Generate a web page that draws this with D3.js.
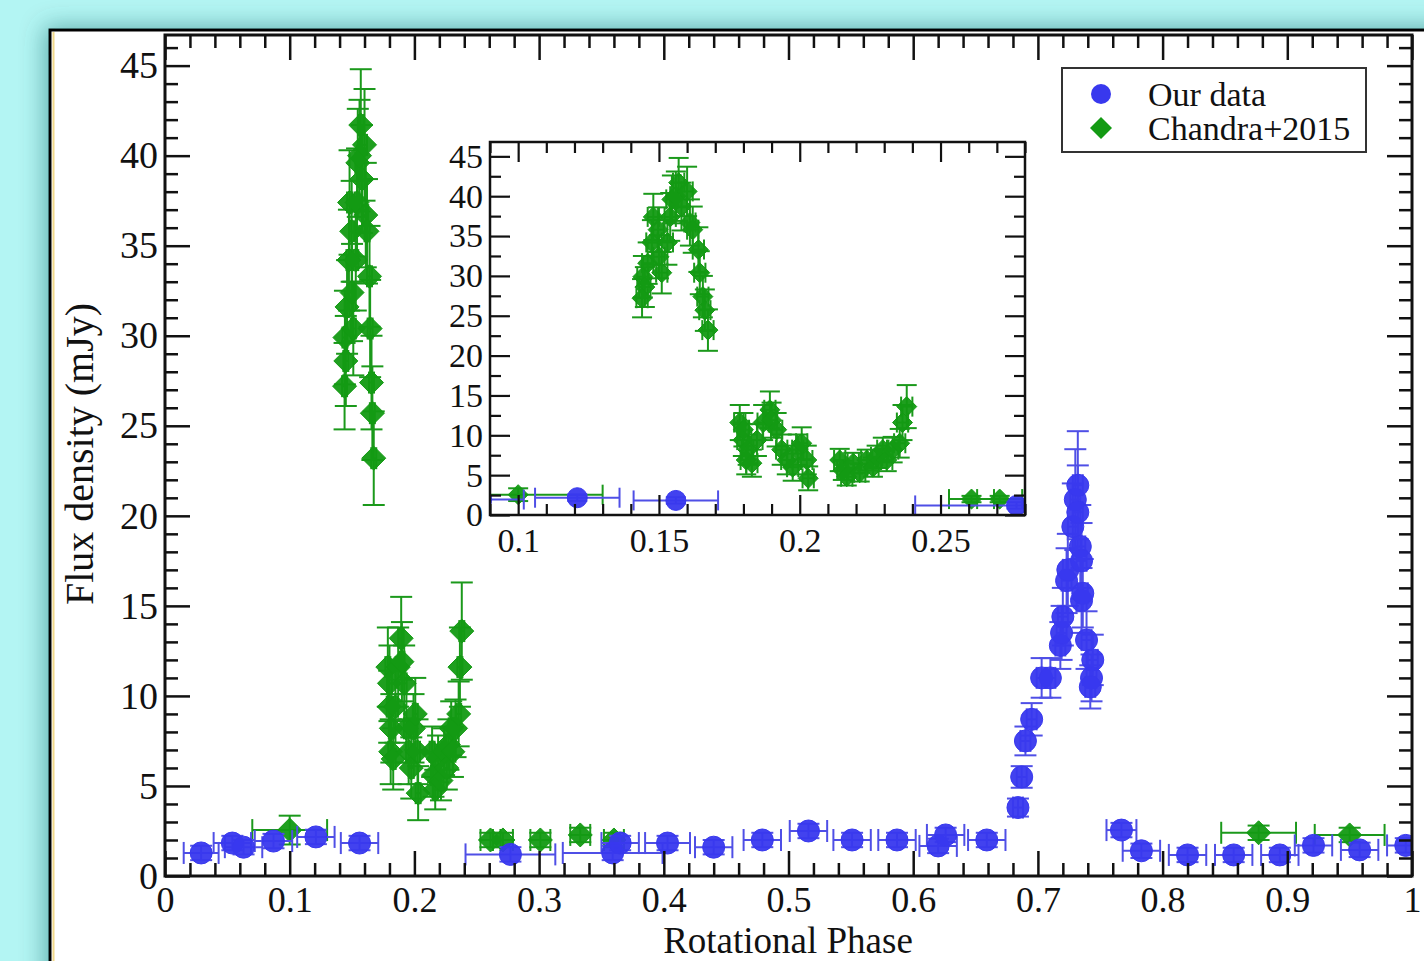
<!DOCTYPE html>
<html>
<head>
<meta charset="utf-8">
<script src="https://cdn.jsdelivr.net/npm/d3@7.9.0/dist/d3.min.js"></script>
<style>
  html, body { margin: 0; padding: 0; background: #b3f5f3; }
  svg { display: block; }
  text { font-family: "Liberation Serif", "Times New Roman", serif; fill: #111; }
</style>
</head>
<body>
<div id="chart"></div>
<script>
// "Our data" (blue circles)
const ourPhase = [0.029, 0.054, 0.063, 0.087, 0.121, 0.156, 0.277, 0.359, 0.365, 0.403, 0.440, 0.479, 0.516, 0.551, 0.587, 0.620, 0.626, 0.659,
  0.684, 0.687, 0.690, 0.695, 0.703, 0.710, 0.718, 0.719, 0.720, 0.723, 0.724, 0.728, 0.730, 0.732, 0.732, 0.734, 0.735, 0.735, 0.736, 0.739, 0.744, 0.743, 0.742,
  0.767, 0.783, 0.820, 0.857, 0.894, 0.921, 0.958, 0.995];
const ourFlux = [1.28, 1.83, 1.60, 1.94, 2.17, 1.83, 1.20, 1.28, 1.83, 1.83, 1.60, 2.00, 2.50, 2.00, 2.00, 1.67, 2.28, 2.00,
  3.8, 5.5, 7.5, 8.7, 11.0, 11.0, 12.8, 13.5, 14.4, 16.4, 17.0, 19.4, 20.9, 20.2, 21.7, 18.3, 17.5, 15.3, 15.7, 13.1, 12.0, 11.0, 10.5,
  2.55, 1.40, 1.17, 1.17, 1.17, 1.70, 1.45, 1.70];
const ourPhaseErr = [0.014, 0.015, 0.015, 0.015, 0.015, 0.015, 0.036, 0.040, 0.015, 0.018, 0.015, 0.015, 0.015, 0.015, 0.015, 0.015, 0.015, 0.015,
  0.004, 0.004, 0.004, 0.004, 0.004, 0.004, 0.004, 0.004, 0.004, 0.004, 0.004, 0.004, 0.004, 0.004, 0.004, 0.004, 0.004, 0.004, 0.004, 0.004, 0.004, 0.004, 0.004,
  0.012, 0.015, 0.015, 0.015, 0.015, 0.015, 0.015, 0.015];
const ourFluxErr = [0.4, 0.4, 0.4, 0.4, 0.4, 0.4, 0.4, 0.4, 0.4, 0.4, 0.4, 0.4, 0.4, 0.4, 0.4, 0.4, 0.4, 0.4,
  0.5, 0.6, 0.8, 0.9, 1.1, 1.1, 1.3, 1.5, 1.6, 1.8, 2.0, 2.4, 2.8, 2.6, 3.0, 2.3, 2.1, 1.8, 1.9, 1.6, 1.4, 1.3, 1.2,
  0.4, 0.4, 0.4, 0.4, 0.4, 0.4, 0.4, 0.4];

// "Chandra+2015" (green diamonds)
const chandraPhase = [0.100,
  0.1443, 0.1450, 0.1440, 0.1460, 0.1475, 0.1480, 0.1497, 0.1500, 0.1510, 0.1530, 0.1540, 0.1546, 0.1560, 0.1570, 0.1580, 0.1600, 0.1610, 0.1620, 0.1640, 0.1645, 0.1656, 0.1663, 0.1674,
  0.1787, 0.1798, 0.1800, 0.1810, 0.1815, 0.1830, 0.1848, 0.1870, 0.1894, 0.1900, 0.1918, 0.1936, 0.1954, 0.1975, 0.1993, 0.2007, 0.2025, 0.2030,
  0.2142, 0.2153, 0.2167, 0.2190, 0.2213, 0.2238, 0.2260, 0.2273, 0.2295, 0.2309, 0.2330, 0.2355, 0.2365, 0.2380,
  0.261, 0.271, 0.301, 0.333, 0.360, 0.877, 0.950];
const chandraFlux = [2.55,
  29.9, 28.6, 27.2, 31.6, 34.2, 37.4, 35.8, 32.4, 30.4, 34.2, 37.4, 39.6, 40.0, 41.7, 38.7, 40.6, 36.7, 35.8, 33.3, 30.4, 27.4, 25.7, 23.2,
  11.6, 9.4, 10.7, 6.9, 8.2, 6.5, 9.4, 11.6, 13.2, 11.9, 10.7, 8.2, 6.9, 6.0, 8.2, 9.0, 6.9, 4.6,
  6.9, 5.6, 4.8, 6.5, 5.3, 6.9, 6.0, 7.3, 8.2, 6.9, 8.2, 9.0, 11.6, 13.6,
  2.00, 2.00, 2.00, 2.28, 2.00, 2.40, 2.28];
const chandraPhaseErr = [0.030,
  0.002, 0.002, 0.002, 0.002, 0.002, 0.002, 0.002, 0.002, 0.002, 0.002, 0.002, 0.002, 0.002, 0.002, 0.002, 0.002, 0.002, 0.002, 0.002, 0.002, 0.002, 0.002, 0.002,
  0.002, 0.002, 0.002, 0.002, 0.002, 0.002, 0.002, 0.002, 0.002, 0.002, 0.002, 0.002, 0.002, 0.002, 0.002, 0.002, 0.002, 0.002,
  0.002, 0.002, 0.002, 0.002, 0.002, 0.002, 0.002, 0.002, 0.002, 0.002, 0.002, 0.002, 0.002, 0.002,
  0.008, 0.008, 0.008, 0.008, 0.008, 0.030, 0.028];
const chandraFluxErr = [0.8,
  2.6, 2.5, 2.4, 2.6, 2.8, 2.9, 2.8, 2.7, 2.6, 2.8, 3.0, 3.0, 3.1, 3.1, 3.0, 3.1, 2.9, 2.9, 2.8, 2.7, 2.6, 2.6, 2.6,
  2.2, 2.0, 2.1, 1.8, 1.9, 1.7, 2.0, 2.2, 2.3, 2.2, 2.1, 1.9, 1.8, 1.7, 1.9, 2.0, 1.8, 1.5,
  1.4, 1.2, 1.1, 1.3, 1.1, 1.3, 1.2, 1.4, 1.5, 1.4, 1.6, 1.8, 2.2, 2.7,
  0.4, 0.4, 0.4, 0.4, 0.4, 0.4, 0.4];

// ticks and labels
const mainXTicks = [0, 0.1, 0.2, 0.3, 0.4, 0.5, 0.6, 0.7, 0.8, 0.9, 1];
const mainYTicks = [0, 5, 10, 15, 20, 25, 30, 35, 40, 45];
const insetXTicks = [0.1, 0.15, 0.2, 0.25];
const insetYTicks = [0, 5, 10, 15, 20, 25, 30, 35, 40, 45];
const legendLabels = ["Our data", "Chandra+2015"];
const xTitle = "Rotational Phase";
const yTitle = "Flux density (mJy)";

const BLUE = "#3838ee", BLUE_BAR = "#4f4fe6";
const GREEN = "#139a13", GREEN_BAR = "#1b991b";

const width = 1424, height = 961;

const ours = ourPhase.map((p, i) => ({ x: p, y: ourFlux[i], dx: ourPhaseErr[i], dy: ourFluxErr[i] }));
const chandra = chandraPhase.map((p, i) => ({ x: p, y: chandraFlux[i], dx: chandraPhaseErr[i], dy: chandraFluxErr[i] }));

const svg = d3.select("#chart").append("svg")
  .attr("width", width)
  .attr("height", height);

const defs = svg.append("defs");
const shadow = defs.append("filter").attr("id", "shadow")
  .attr("x", "-10%").attr("y", "-10%").attr("width", "120%").attr("height", "120%");
shadow.append("feDropShadow")
  .attr("dx", -4).attr("dy", -2)
  .attr("stdDeviation", 12)
  .attr("flood-color", "#0a5a5a")
  .attr("flood-opacity", 0.45);

// slide background + white panel
svg.append("rect").attr("width", width).attr("height", height).attr("fill", "#b3f5f3");
svg.append("rect")
  .attr("x", 50).attr("y", 30)
  .attr("width", 1420).attr("height", 980)
  .attr("fill", "#fff")
  .attr("stroke", "#000")
  .attr("stroke-width", 3)
  .attr("filter", "url(#shadow)");
svg.append("line")
  .attr("x1", 53.5).attr("x2", 53.5).attr("y1", 32).attr("y2", height)
  .attr("stroke", "#f2d98a").attr("stroke-width", 2);

function fmt(d) {
  return String(+d.toFixed(2));
}

function drawAxes(g, x, y, o) {
  const [x0, x1] = x.range();
  const [y0, y1] = y.range();

  const sides = [
    { fn: d3.axisBottom, scale: x, t: `translate(0,${y0})`, labels: true, major: o.xMajor, minor: o.xMinor },
    { fn: d3.axisTop, scale: x, t: `translate(0,${y1})`, labels: false, major: o.xMajor, minor: o.xMinor },
    { fn: d3.axisLeft, scale: y, t: `translate(${x0},0)`, labels: true, major: o.yMajor, minor: o.yMinor },
    { fn: d3.axisRight, scale: y, t: `translate(${x1},0)`, labels: false, major: o.yMajor, minor: o.yMinor }
  ];

  sides.forEach(s => {
    const horizontal = s.fn === d3.axisBottom || s.fn === d3.axisTop;
    const minorAxis = s.fn(s.scale)
      .tickValues(s.minor)
      .tickSize(-o.minorLen)
      .tickSizeOuter(0)
      .tickFormat("");
    const gm = g.append("g").attr("transform", s.t).call(minorAxis);
    gm.select(".domain").remove();
    gm.selectAll("line").attr("stroke", "#111").attr("stroke-width", o.tickWidth);

    const majorAxis = s.fn(s.scale)
      .tickValues(s.major)
      .tickSize(-o.majorLen)
      .tickSizeOuter(0)
      .tickPadding(horizontal ? o.xPad : o.yPad)
      .tickFormat(s.labels ? fmt : "");
    const ga = g.append("g").attr("transform", s.t).call(majorAxis);
    ga.select(".domain").remove();
    ga.selectAll("line").attr("stroke", "#111").attr("stroke-width", o.tickWidth);
    ga.selectAll("text")
      .attr("font-size", horizontal ? o.xFontSize : o.yFontSize)
      .attr("font-family", '"Liberation Serif", "Times New Roman", serif')
      .attr("fill", "#111");
  });

  g.append("rect")
    .attr("x", x0).attr("y", y1)
    .attr("width", x1 - x0).attr("height", y0 - y1)
    .attr("fill", "none")
    .attr("stroke", "#111")
    .attr("stroke-width", o.frameWidth);
}

function drawSeries(g, data, x, y, o) {
  const pts = g.append("g").selectAll("g")
    .data(data)
    .join("g");

  const bars = pts.append("g")
    .attr("stroke", o.barColor)
    .attr("stroke-width", o.barWidth)
    .attr("fill", "none");

  // vertical error bar + caps
  bars.append("line")
    .attr("x1", d => x(d.x)).attr("x2", d => x(d.x))
    .attr("y1", d => y(d.y - d.dy)).attr("y2", d => y(d.y + d.dy));
  bars.append("line")
    .attr("x1", d => x(d.x) - o.cap).attr("x2", d => x(d.x) + o.cap)
    .attr("y1", d => y(d.y + d.dy)).attr("y2", d => y(d.y + d.dy));
  bars.append("line")
    .attr("x1", d => x(d.x) - o.cap).attr("x2", d => x(d.x) + o.cap)
    .attr("y1", d => y(d.y - d.dy)).attr("y2", d => y(d.y - d.dy));

  // horizontal error bar + caps
  bars.append("line")
    .attr("x1", d => x(d.x - d.dx)).attr("x2", d => x(d.x + d.dx))
    .attr("y1", d => y(d.y)).attr("y2", d => y(d.y));
  bars.append("line")
    .attr("x1", d => x(d.x - d.dx)).attr("x2", d => x(d.x - d.dx))
    .attr("y1", d => y(d.y) - o.cap).attr("y2", d => y(d.y) + o.cap);
  bars.append("line")
    .attr("x1", d => x(d.x + d.dx)).attr("x2", d => x(d.x + d.dx))
    .attr("y1", d => y(d.y) - o.cap).attr("y2", d => y(d.y) + o.cap);

  g.append("g").selectAll("path")
    .data(data)
    .join("path")
    .attr("transform", d => `translate(${x(d.x)},${y(d.y)})`)
    .attr("d", o.shape === "circle" ? circlePath(o.size) : diamondPath(o.size))
    .attr("fill", o.color)
    .attr("fill-opacity", 0.95)
    .attr("stroke", o.color)
    .attr("stroke-width", 1);
}

function circlePath(r) {
  return `M${r},0A${r},${r} 0 1,1 ${-r},0A${r},${r} 0 1,1 ${r},0Z`;
}

function diamondPath(h) {
  return `M0,${-h}L${h},0L0,${h}L${-h},0Z`;
}

// ---------------- main plot ----------------
const x = d3.scaleLinear().domain([0, 1]).range([165, 1412]);
const y = d3.scaleLinear().domain([0, 46.7]).range([876, 35]);

defs.append("clipPath").attr("id", "clip-main")
  .append("rect").attr("x", 165).attr("y", 35).attr("width", 1247).attr("height", 841);

const main = svg.append("g");
const mainData = main.append("g").attr("clip-path", "url(#clip-main)");

drawSeries(mainData, chandra, x, y, { shape: "diamond", size: 12, color: GREEN, barColor: GREEN_BAR, barWidth: 2, cap: 11 });
drawSeries(mainData, ours, x, y, { shape: "circle", size: 11, color: BLUE, barColor: BLUE_BAR, barWidth: 2, cap: 11 });

drawAxes(main, x, y, {
  xMajor: mainXTicks,
  xMinor: d3.range(0, 1.0001, 0.02).filter(v => Math.abs(v * 10 - Math.round(v * 10)) > 1e-6),
  yMajor: mainYTicks,
  yMinor: d3.range(1, 47, 1).filter(v => v % 5 !== 0),
  majorLen: 25, minorLen: 13, tickWidth: 2.5, frameWidth: 3,
  xPad: 10, yPad: 7, xFontSize: 36, yFontSize: 38
});

main.append("text")
  .attr("x", 788).attr("y", 953)
  .attr("text-anchor", "middle")
  .attr("font-size", 37)
  .text(xTitle);

main.append("text")
  .attr("transform", "translate(93,454) rotate(-90)")
  .attr("text-anchor", "middle")
  .attr("font-size", 40)
  .text(yTitle);

// ---------------- legend ----------------
const legend = svg.append("g");
legend.append("rect")
  .attr("x", 1062).attr("y", 68)
  .attr("width", 304).attr("height", 84)
  .attr("fill", "#fff")
  .attr("stroke", "#333")
  .attr("stroke-width", 2);
legend.append("path")
  .attr("transform", "translate(1101,94)")
  .attr("d", circlePath(10))
  .attr("fill", BLUE);
legend.append("path")
  .attr("transform", "translate(1101,128)")
  .attr("d", diamondPath(11))
  .attr("fill", GREEN);
legend.selectAll("text.lab")
  .data(legendLabels)
  .join("text")
  .attr("class", "lab")
  .attr("x", 1148)
  .attr("y", (d, i) => 106 + i * 34)
  .attr("font-size", 34)
  .text(d => d);

// ---------------- inset ----------------
const ix = d3.scaleLinear().domain([0.09, 0.28]).range([490, 1025]);
const iy = d3.scaleLinear().domain([0, 46.8]).range([515, 142]);

defs.append("clipPath").attr("id", "clip-inset")
  .append("rect").attr("x", 490).attr("y", 142).attr("width", 535).attr("height", 373);

const inset = svg.append("g");
inset.append("rect")
  .attr("x", 490).attr("y", 142).attr("width", 535).attr("height", 373)
  .attr("fill", "#fff");
const insetData = inset.append("g").attr("clip-path", "url(#clip-inset)");

drawSeries(insetData, chandra, ix, iy, { shape: "diamond", size: 10, color: GREEN, barColor: GREEN_BAR, barWidth: 2, cap: 10 });
drawSeries(insetData, ours, ix, iy, { shape: "circle", size: 10, color: BLUE, barColor: BLUE_BAR, barWidth: 2, cap: 10 });

drawAxes(inset, ix, iy, {
  xMajor: insetXTicks,
  xMinor: d3.range(0.09, 0.2801, 0.01).filter(v => Math.abs(v * 20 - Math.round(v * 20)) > 1e-6),
  yMajor: insetYTicks,
  yMinor: d3.range(2.5, 46.8, 5),
  majorLen: 20, minorLen: 11, tickWidth: 2.2, frameWidth: 2.5,
  xPad: 13, yPad: 7, xFontSize: 34, yFontSize: 34
});
</script>
</body>
</html>
